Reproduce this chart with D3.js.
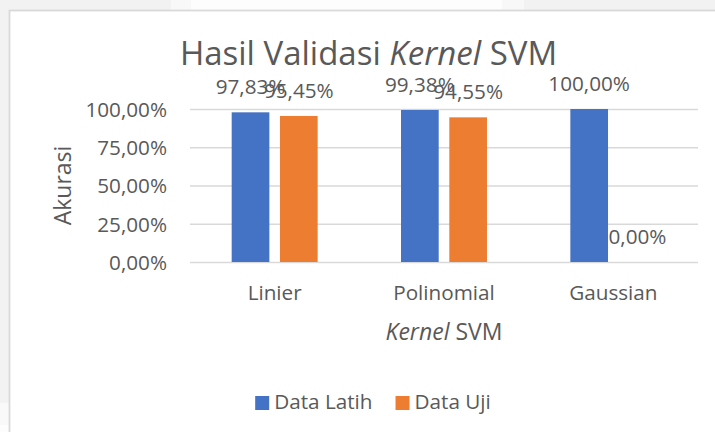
<!DOCTYPE html>
<html>
<head>
<meta charset="UTF-8">
<title>Hasil Validasi Kernel SVM</title>
<script src="https://cdn.jsdelivr.net/npm/d3@7"></script>
<style>
    body {
        margin: 0;
        background: #f2f2f2;
        overflow: hidden;
    }
    svg text {
        font-family: "Open Sans", "Noto Sans", sans-serif;
        fill: #595959;
    }
    .grid line {
        stroke: #d9d9d9;
        stroke-width: 1.5;
    }
    .tick text {
        font-size: 20.7px;
    }
</style>
</head>
<body>
<script>
    var categories = ["Linier", "Polinomial", "Gaussian"];
    var seriesNames = ["Data Latih", "Data Uji"];
    var dataLatih = [97.83, 99.38, 100.00];
    var dataUji = [95.45, 94.55, 0.00];
    var yTicks = [0, 25, 50, 75, 100];
    var colors = ["#4472c4", "#ed7d31"];

    var width = 715, height = 432;
    var plot = {left: 190, right: 698, top: 109, bottom: 262};

    var svg = d3.select("body").append("svg")
            .attr("width", width)
            .attr("height", height);

    // page background around the chart box
    svg.append("rect").attr("x", 0).attr("y", 0).attr("width", width).attr("height", height).attr("fill", "#f2f2f2");
    svg.append("rect").attr("x", 171).attr("y", 0).attr("width", 353).attr("height", 10).attr("fill", "#f8f8f8");
    svg.append("rect").attr("x", 191).attr("y", 0).attr("width", 311).attr("height", 10).attr("fill", "#fdfdfd");
    svg.append("rect").attr("x", 0).attr("y", 403).attr("width", 9).attr("height", 22).attr("fill", "#f9f9f9");
    svg.append("rect").attr("x", 0).attr("y", 425).attr("width", 9).attr("height", 7).attr("fill", "#fdfdfd");

    // chart box
    svg.append("rect")
            .attr("x", 9.5).attr("y", 10.5)
            .attr("width", 800).attr("height", 500)
            .attr("fill", "#ffffff")
            .attr("stroke", "#d9d9d9")
            .attr("stroke-width", 1.8);

    var x0 = d3.scaleBand()
            .domain(categories)
            .range([plot.left, plot.right])
            .paddingInner(0)
            .paddingOuter(0);

    var x1 = d3.scaleBand()
            .domain(seriesNames)
            .range([0, x0.bandwidth()])
            .paddingInner(0.22)
            .paddingOuter(0.863);

    var y = d3.scaleLinear()
            .domain([0, 100])
            .range([plot.bottom, plot.top]);

    var fmt = function (v) { return v.toFixed(2).replace(".", ",") + "%"; };

    // y axis with gridlines
    var yAxis = d3.axisLeft(y)
            .tickValues(yTicks)
            .tickFormat(fmt)
            .tickSize(-(plot.right - plot.left))
            .tickPadding(23);

    var gy = svg.append("g")
            .attr("class", "grid")
            .attr("transform", "translate(" + plot.left + ",0)")
            .call(yAxis);
    gy.select(".domain").remove();
    gy.selectAll(".tick text").attr("dy", "0.36em");

    // x axis labels
    var xAxis = d3.axisBottom(x0)
            .tickSize(0)
            .tickPadding(23.5);

    var gx = svg.append("g")
            .attr("transform", "translate(0," + plot.bottom + ")")
            .call(xAxis);
    gx.select(".domain").remove();

    // bars
    var rows = categories.map(function (c, i) {
        return {cat: c, values: [dataLatih[i], dataUji[i]]};
    });

    var groups = svg.append("g").selectAll("g")
            .data(rows)
            .join("g")
            .attr("transform", function (d) { return "translate(" + x0(d.cat) + ",0)"; });

    groups.selectAll("rect")
            .data(function (d) { return d.values.map(function (v, j) { return {name: seriesNames[j], v: v, j: j}; }); })
            .join("rect")
            .attr("x", function (d) { return x1(d.name); })
            .attr("y", function (d) { return y(d.v); })
            .attr("width", x1.bandwidth())
            .attr("height", function (d) { return y(0) - y(d.v); })
            .attr("fill", function (d) { return colors[d.j]; });

    // data labels (they overlap in the original too)
    groups.selectAll("text.lbl")
            .data(function (d) { return d.values.map(function (v, j) { return {name: seriesNames[j], v: v}; }); })
            .join("text")
            .attr("class", "lbl")
            .attr("x", function (d) { return x1(d.name) + x1.bandwidth() / 2; })
            .attr("y", function (d) { return y(d.v) - 18; })
            .attr("text-anchor", "middle")
            .style("font-size", "20.7px")
            .text(function (d) { return fmt(d.v); });

    // title
    var title = svg.append("text")
            .attr("x", 368.5)
            .attr("y", 65)
            .attr("text-anchor", "middle")
            .style("font-size", "33px");
    title.append("tspan").text("Hasil Validasi ");
    title.append("tspan").style("font-style", "italic").text("Kernel");
    title.append("tspan").text(" SVM");

    // axis titles
    svg.append("text")
            .attr("transform", "translate(70.5," + ((plot.top + plot.bottom) / 2) + ") rotate(-90)")
            .attr("text-anchor", "middle")
            .style("font-size", "23px")
            .text("Akurasi");

    var xt = svg.append("text")
            .attr("x", (plot.left + plot.right) / 2)
            .attr("y", 340)
            .attr("text-anchor", "middle")
            .style("font-size", "23px");
    xt.append("tspan").style("font-style", "italic").text("Kernel");
    xt.append("tspan").text(" SVM");

    // legend
    var legend = svg.append("g");
    var lx = 0;
    seriesNames.forEach(function (name, i) {
        legend.append("rect")
                .attr("x", lx).attr("y", 396)
                .attr("width", 14).attr("height", 14)
                .attr("fill", colors[i]);
        var t = legend.append("text")
                .attr("x", lx + 19)
                .attr("y", 409)
                .style("font-size", "20.7px")
                .text(name);
        lx += 19 + t.node().getComputedTextLength() + 23;
    });
    var lw = lx - 23;
    legend.attr("transform", "translate(" + (373 - lw / 2) + ",0)");
</script>
</body>
</html>
